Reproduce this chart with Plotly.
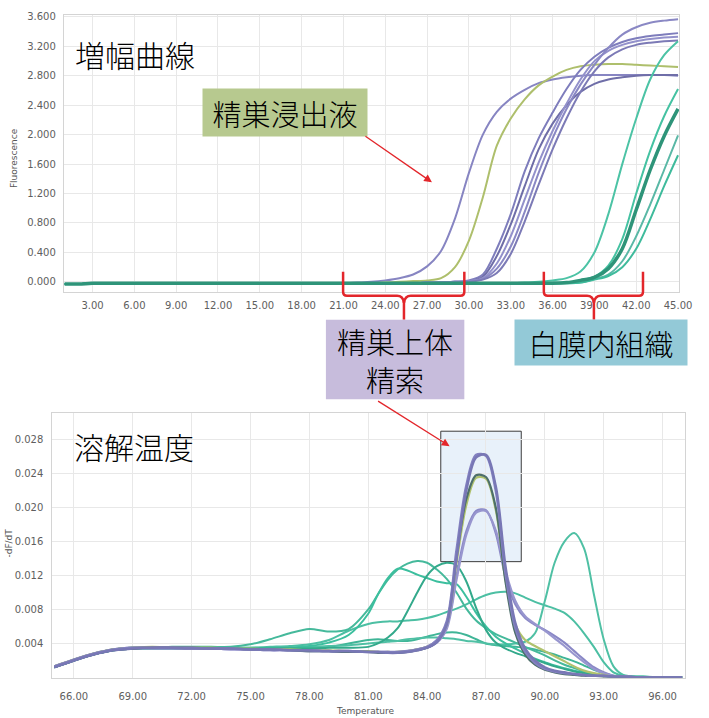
import plotly.graph_objects as go

W, H = 709, 718

# ---------------- amplification curves (top) ----------------
cycles = list(range(1, 46))
amp_xticks = [3, 6, 9, 12, 15, 18, 21, 24, 27, 30, 33, 36, 39, 42, 45]
amp_yticks = [0.0, 0.4, 0.8, 1.2, 1.6, 2.0, 2.4, 2.8, 3.2, 3.6]

amp_purple_early = [
    -0.03, -0.03, -0.02, -0.02, -0.02, -0.02, -0.02, -0.02, -0.02, -0.02,
    -0.02, -0.02, -0.02, -0.02, -0.02, -0.02, -0.02, -0.02, -0.02, -0.02,
    -0.02, -0.01, 0.00, 0.02, 0.05, 0.10, 0.21, 0.42, 0.86, 1.48,
    2.00, 2.31, 2.49, 2.61, 2.70, 2.75, 2.78, 2.80, 2.81, 2.81,
    2.81, 2.81, 2.81, 2.81, 2.80]
amp_green_early = [
    -0.03, -0.03, -0.02, -0.02, -0.02, -0.02, -0.02, -0.02, -0.02, -0.02,
    -0.02, -0.02, -0.02, -0.02, -0.02, -0.02, -0.02, -0.02, -0.02, -0.02,
    -0.02, -0.02, -0.02, -0.01, 0.00, 0.01, 0.02, 0.05, 0.20, 0.56,
    1.15, 1.85, 2.22, 2.48, 2.67, 2.79, 2.88, 2.93, 2.95, 2.96,
    2.96, 2.95, 2.94, 2.93, 2.92]
amp_purple_b = [
    -0.03, -0.03, -0.02, -0.02, -0.02, -0.02, -0.02, -0.02, -0.02, -0.02,
    -0.02, -0.02, -0.02, -0.02, -0.02, -0.02, -0.02, -0.02, -0.02, -0.02,
    -0.02, -0.02, -0.02, -0.02, -0.02, -0.02, -0.01, -0.01, 0.00, 0.02,
    0.10, 0.45, 0.92, 1.50, 1.95, 2.30, 2.62, 2.88, 3.06, 3.18,
    3.26, 3.31, 3.34, 3.36, 3.38]
amp_purple_e = [
    -0.03, -0.03, -0.02, -0.02, -0.02, -0.02, -0.02, -0.02, -0.02, -0.02,
    -0.02, -0.02, -0.02, -0.02, -0.02, -0.02, -0.02, -0.02, -0.02, -0.02,
    -0.02, -0.02, -0.02, -0.02, -0.02, -0.02, -0.01, -0.01, 0.00, 0.01,
    0.07, 0.35, 0.78, 1.30, 1.80, 2.15, 2.40, 2.58, 2.69, 2.75,
    2.78, 2.80, 2.81, 2.81, 2.81]
amp_purple_c = [
    -0.03, -0.03, -0.02, -0.02, -0.02, -0.02, -0.02, -0.02, -0.02, -0.02,
    -0.02, -0.02, -0.02, -0.02, -0.02, -0.02, -0.02, -0.02, -0.02, -0.02,
    -0.02, -0.02, -0.02, -0.02, -0.02, -0.02, -0.01, -0.01, 0.00, 0.01,
    0.05, 0.25, 0.62, 1.12, 1.62, 2.05, 2.42, 2.75, 3.00, 3.14,
    3.22, 3.27, 3.30, 3.32, 3.33]
amp_purple_a = [
    -0.03, -0.03, -0.02, -0.02, -0.02, -0.02, -0.02, -0.02, -0.02, -0.02,
    -0.02, -0.02, -0.02, -0.02, -0.02, -0.02, -0.02, -0.02, -0.02, -0.02,
    -0.02, -0.02, -0.02, -0.02, -0.02, -0.02, -0.01, -0.01, 0.00, 0.01,
    0.04, 0.18, 0.48, 0.95, 1.48, 1.95, 2.35, 2.68, 2.95, 3.18,
    3.36, 3.46, 3.52, 3.55, 3.57]
amp_purple_d = [
    -0.03, -0.03, -0.02, -0.02, -0.02, -0.02, -0.02, -0.02, -0.02, -0.02,
    -0.02, -0.02, -0.02, -0.02, -0.02, -0.02, -0.02, -0.02, -0.02, -0.02,
    -0.02, -0.02, -0.02, -0.02, -0.02, -0.02, -0.02, -0.01, -0.01, 0.00,
    0.03, 0.12, 0.38, 0.82, 1.32, 1.80, 2.22, 2.58, 2.86, 3.05,
    3.16, 3.22, 3.25, 3.27, 3.28]
amp_teal_1 = [
    -0.03, -0.03, -0.02, -0.02, -0.02, -0.02, -0.02, -0.02, -0.02, -0.02,
    -0.02, -0.02, -0.02, -0.02, -0.02, -0.02, -0.02, -0.02, -0.02, -0.02,
    -0.02, -0.02, -0.02, -0.02, -0.02, -0.02, -0.02, -0.02, -0.02, -0.02,
    -0.02, -0.02, -0.02, -0.01, 0.00, 0.02, 0.05, 0.14, 0.40, 0.92,
    1.60, 2.22, 2.75, 3.08, 3.27]
amp_teal_2 = [
    -0.03, -0.03, -0.02, -0.02, -0.02, -0.02, -0.02, -0.02, -0.02, -0.02,
    -0.02, -0.02, -0.02, -0.02, -0.02, -0.02, -0.02, -0.02, -0.02, -0.02,
    -0.02, -0.02, -0.02, -0.02, -0.02, -0.02, -0.02, -0.02, -0.02, -0.02,
    -0.02, -0.02, -0.02, -0.02, -0.02, -0.01, -0.01, 0.02, 0.07, 0.22,
    0.58, 1.20, 1.78, 2.25, 2.62]
amp_teal_3 = [
    -0.03, -0.03, -0.02, -0.02, -0.02, -0.02, -0.02, -0.02, -0.02, -0.02,
    -0.02, -0.02, -0.02, -0.02, -0.02, -0.02, -0.02, -0.02, -0.02, -0.02,
    -0.02, -0.02, -0.02, -0.02, -0.02, -0.02, -0.02, -0.02, -0.02, -0.02,
    -0.02, -0.02, -0.02, -0.02, -0.02, -0.02, -0.01, 0.02, 0.06, 0.18,
    0.45, 0.98, 1.52, 1.98, 2.35]
amp_teal_4 = [
    -0.03, -0.03, -0.02, -0.02, -0.02, -0.02, -0.02, -0.02, -0.02, -0.02,
    -0.02, -0.02, -0.02, -0.02, -0.02, -0.02, -0.02, -0.02, -0.02, -0.02,
    -0.02, -0.02, -0.02, -0.02, -0.02, -0.02, -0.02, -0.02, -0.02, -0.02,
    -0.02, -0.02, -0.02, -0.02, -0.02, -0.02, -0.02, -0.01, 0.04, 0.10,
    0.28, 0.62, 1.05, 1.52, 1.99]
amp_teal_5 = [
    -0.03, -0.03, -0.02, -0.02, -0.02, -0.02, -0.02, -0.02, -0.02, -0.02,
    -0.02, -0.02, -0.02, -0.02, -0.02, -0.02, -0.02, -0.02, -0.02, -0.02,
    -0.02, -0.02, -0.02, -0.02, -0.02, -0.02, -0.02, -0.02, -0.02, -0.02,
    -0.02, -0.02, -0.02, -0.02, -0.02, -0.02, -0.02, -0.01, 0.03, 0.08,
    0.20, 0.45, 0.85, 1.30, 1.72]

# ---------------- melt curves (bottom) ----------------
melt_temps = [65, 66, 67, 68, 69, 70, 71, 72, 73, 74, 75, 76, 77, 78, 79, 80, 81,
              81.5, 82, 82.5, 83, 83.5, 84, 84.5, 85, 85.5, 86, 86.5, 87, 87.5,
              88, 88.5, 89, 89.5, 90, 90.5, 91, 91.5, 92, 92.5, 93, 93.5, 94,
              95, 96, 97]
melt_xticks = [66, 69, 72, 75, 78, 81, 84, 87, 90, 93, 96]
melt_yticks = [0.004, 0.008, 0.012, 0.016, 0.020, 0.024, 0.028]

melt_teal_a = [
    0.0012, 0.0020, 0.0028, 0.0033, 0.0035, 0.0035, 0.0035, 0.0035, 0.0035, 0.0035, 0.0035, 0.0035, 0.0035, 0.0036, 0.0037, 0.0038, 0.0040,
    0.0041, 0.0042, 0.0043, 0.0045, 0.0046, 0.0047, 0.0047, 0.0046, 0.0045, 0.0043, 0.0042, 0.0040, 0.0039, 0.0039, 0.0040, 0.0042, 0.0052, 0.0090, 0.0135, 0.0160, 0.0170, 0.0152, 0.0098, 0.0045, 0.0013, 0.0003,
    0.0001, 0.0000, 0.0000]
melt_teal_b = [
    0.0013, 0.0021, 0.0028, 0.0033, 0.0035, 0.0035, 0.0036, 0.0036, 0.0036, 0.0036, 0.0039, 0.0045, 0.0052, 0.0057, 0.0054, 0.0057, 0.0080,
    0.0098, 0.0115, 0.0127, 0.0134, 0.0137, 0.0135, 0.0127, 0.0116, 0.0100, 0.0081, 0.0067, 0.0058, 0.0051, 0.0046, 0.0041, 0.0036, 0.0031, 0.0026, 0.0020, 0.0015, 0.0011, 0.0007, 0.0004, 0.0002, 0.0001, 0.0001,
    0.0000, 0.0000, 0.0000]
melt_teal_c = [
    0.0012, 0.0020, 0.0027, 0.0032, 0.0034, 0.0034, 0.0034, 0.0034, 0.0034, 0.0034, 0.0034, 0.0034, 0.0035, 0.0037, 0.0041, 0.0050, 0.0075,
    0.0098, 0.0117, 0.0128, 0.0126, 0.0121, 0.0117, 0.0113, 0.0111, 0.0110, 0.0095, 0.0076, 0.0060, 0.0048, 0.0040, 0.0034, 0.0028, 0.0022, 0.0018, 0.0014, 0.0011, 0.0008, 0.0006, 0.0004, 0.0002, 0.0001, 0.0001,
    0.0000, 0.0000, 0.0000]
melt_teal_d = [
    0.0012, 0.0020, 0.0027, 0.0032, 0.0034, 0.0035, 0.0035, 0.0035, 0.0035, 0.0034, 0.0034, 0.0034, 0.0034, 0.0034, 0.0035, 0.0035, 0.0036,
    0.0040, 0.0047, 0.0058, 0.0078, 0.0100, 0.0120, 0.0131, 0.0135, 0.0132, 0.0113, 0.0082, 0.0056, 0.0041, 0.0034, 0.0029, 0.0025, 0.0021, 0.0017, 0.0013, 0.0010, 0.0007, 0.0005, 0.0003, 0.0002, 0.0001, 0.0000,
    0.0000, 0.0000, 0.0000]
melt_teal_e = [
    0.0013, 0.0021, 0.0028, 0.0033, 0.0035, 0.0035, 0.0035, 0.0035, 0.0035, 0.0035, 0.0035, 0.0036, 0.0037, 0.0039, 0.0044, 0.0055, 0.0063,
    0.0065, 0.0066, 0.0066, 0.0067, 0.0068, 0.0070, 0.0073, 0.0077, 0.0081, 0.0086, 0.0092, 0.0097, 0.0100, 0.0101, 0.0099, 0.0094, 0.0089, 0.0085, 0.0081, 0.0076, 0.0066, 0.0052, 0.0036, 0.0018, 0.0006, 0.0002,
    0.0001, 0.0000, 0.0000]
melt_teal_f = [
    0.0012, 0.0020, 0.0027, 0.0032, 0.0034, 0.0034, 0.0034, 0.0034, 0.0034, 0.0034, 0.0034, 0.0034, 0.0034, 0.0035, 0.0036, 0.0040, 0.0044,
    0.0045, 0.0044, 0.0043, 0.0043, 0.0045, 0.0048, 0.0051, 0.0053, 0.0053, 0.0050, 0.0045, 0.0040, 0.0038, 0.0037, 0.0036, 0.0035, 0.0033, 0.0030, 0.0027, 0.0023, 0.0019, 0.0014, 0.0009, 0.0005, 0.0002, 0.0001,
    0.0000, 0.0000, 0.0000]
melt_purple_1 = [
    0.0013, 0.0021, 0.0028, 0.0033, 0.0035, 0.0035, 0.0035, 0.0035, 0.0034, 0.0034, 0.0033, 0.0033, 0.0032, 0.0032, 0.0031, 0.0031, 0.0030,
    0.0030, 0.0030, 0.0030, 0.0031, 0.0033, 0.0036, 0.0044, 0.0066, 0.0150, 0.0226, 0.0262, 0.0261, 0.0220, 0.0122, 0.0058, 0.0030, 0.0017, 0.0010, 0.0007, 0.0005, 0.0004, 0.0003, 0.0002, 0.0002, 0.0001, 0.0001,
    0.0000, 0.0000, 0.0000]
melt_purple_2 = [
    0.0012, 0.0020, 0.0027, 0.0032, 0.0034, 0.0035, 0.0035, 0.0034, 0.0034, 0.0034, 0.0033, 0.0033, 0.0032, 0.0032, 0.0031, 0.0031, 0.0030,
    0.0030, 0.0029, 0.0029, 0.0030, 0.0032, 0.0035, 0.0042, 0.0062, 0.0140, 0.0220, 0.0259, 0.0262, 0.0225, 0.0130, 0.0064, 0.0034, 0.0020, 0.0012, 0.0008, 0.0006, 0.0004, 0.0003, 0.0002, 0.0002, 0.0001, 0.0001,
    0.0000, 0.0000, 0.0000]
melt_green = [
    0.0013, 0.0021, 0.0028, 0.0033, 0.0035, 0.0036, 0.0035, 0.0035, 0.0035, 0.0034, 0.0034, 0.0033, 0.0033, 0.0032, 0.0032, 0.0031, 0.0031,
    0.0030, 0.0030, 0.0030, 0.0031, 0.0033, 0.0036, 0.0043, 0.0062, 0.0135, 0.0203, 0.0235, 0.0234, 0.0197, 0.0115, 0.0062, 0.0044, 0.0037, 0.0031, 0.0025, 0.0019, 0.0013, 0.0008, 0.0005, 0.0003, 0.0001, 0.0001,
    0.0000, 0.0000, 0.0000]
melt_purple_3 = [
    0.0012, 0.0020, 0.0027, 0.0032, 0.0034, 0.0034, 0.0034, 0.0034, 0.0034, 0.0033, 0.0033, 0.0032, 0.0032, 0.0031, 0.0031, 0.0030, 0.0030,
    0.0030, 0.0030, 0.0030, 0.0031, 0.0033, 0.0036, 0.0043, 0.0060, 0.0120, 0.0172, 0.0196, 0.0197, 0.0170, 0.0118, 0.0086, 0.0070, 0.0062, 0.0056, 0.0049, 0.0041, 0.0031, 0.0021, 0.0012, 0.0006, 0.0002, 0.0001,
    0.0000, 0.0000, 0.0000]
melt_purple_4 = [
    0.0013, 0.0021, 0.0028, 0.0033, 0.0035, 0.0035, 0.0035, 0.0034, 0.0034, 0.0033, 0.0033, 0.0032, 0.0032, 0.0031, 0.0031, 0.0030, 0.0030,
    0.0030, 0.0029, 0.0029, 0.0030, 0.0032, 0.0035, 0.0041, 0.0057, 0.0115, 0.0168, 0.0194, 0.0196, 0.0173, 0.0125, 0.0090, 0.0072, 0.0063, 0.0055, 0.0046, 0.0037, 0.0027, 0.0018, 0.0010, 0.0005, 0.0002, 0.0001,
    0.0000, 0.0000, 0.0000]
melt_dark = [
    0.0012, 0.0020, 0.0027, 0.0032, 0.0034, 0.0035, 0.0035, 0.0035, 0.0034, 0.0034, 0.0033, 0.0033, 0.0032, 0.0031, 0.0031, 0.0030, 0.0030,
    0.0029, 0.0029, 0.0029, 0.0030, 0.0032, 0.0035, 0.0042, 0.0064, 0.0142, 0.0210, 0.0238, 0.0236, 0.0200, 0.0112, 0.0052, 0.0027, 0.0015, 0.0009, 0.0006, 0.0004, 0.0003, 0.0002, 0.0002, 0.0001, 0.0001, 0.0000,
    0.0000, 0.0000, 0.0000]

# ---------------- helpers (pixel -> paper) ----------------
def px(x):
    return x / W


def py(y):
    return 1 - y / H


fig = go.Figure()


def add_line(xs, ys, color, width, axis):
    xa, ya = ("x", "y") if axis == 1 else ("x2", "y2")
    fig.add_trace(go.Scatter(
        x=xs, y=ys, mode="lines", xaxis=xa, yaxis=ya,
        line=dict(color=color, width=width, shape="spline", smoothing=0.9),
        hoverinfo="skip", showlegend=False))


# top chart
add_line(cycles, amp_purple_early, "#8785c2", 2, 1)
add_line(cycles, amp_green_early, "#aebf6c", 2, 1)
add_line(cycles, amp_purple_b, "#7e7dbc", 2, 1)
add_line(cycles, amp_purple_e, "#6f6ea8", 2, 1)
add_line(cycles, amp_purple_c, "#9391cb", 2, 1)
add_line(cycles, amp_purple_a, "#8a88c4", 2, 1)
add_line(cycles, amp_purple_d, "#7c7ab6", 2, 1)
add_line(cycles, amp_teal_1, "#4cc3a5", 2, 1)
add_line(cycles, amp_teal_2, "#45c2a2", 2, 1)
add_line(cycles, amp_teal_4, "#5ab8a6", 2, 1)
add_line(cycles, amp_teal_5, "#3fbb9c", 2, 1)
add_line(cycles, amp_teal_3, "#2e9479", 3.5, 1)

# bottom chart
add_line(melt_temps, melt_teal_e, "#4cbfa3", 2, 2)
add_line(melt_temps, melt_teal_f, "#3fb597", 2, 2)
add_line(melt_temps, melt_teal_a, "#4fc0a4", 2, 2)
add_line(melt_temps, melt_teal_b, "#45b99b", 2, 2)
add_line(melt_temps, melt_teal_c, "#3cbf9e", 2, 2)
add_line(melt_temps, melt_teal_d, "#33a98b", 2, 2)
add_line(melt_temps, melt_purple_3, "#8a88c6", 2.2, 2)
add_line(melt_temps, melt_purple_4, "#9896cf", 2.2, 2)
add_line(melt_temps, melt_green, "#b0c26e", 2.2, 2)
add_line(melt_temps, melt_dark, "#4e6f6b", 2.2, 2)
add_line(melt_temps, melt_purple_1, "#8381c0", 2.5, 2)
add_line(melt_temps, melt_purple_2, "#7877b5", 2.5, 2)

tickfont = dict(family="DejaVu Sans", size=10, color="#5e5e5e")
axis_common = dict(showgrid=True, gridcolor="#e8e8e8", gridwidth=1, zeroline=False,
                   showline=True, linecolor="#d4d4d4", linewidth=1, mirror=True,
                   ticks="", tickfont=tickfont, fixedrange=True)

fig.update_layout(
    width=W, height=H, autosize=False,
    margin=dict(l=0, r=0, t=0, b=0),
    paper_bgcolor="white", plot_bgcolor="rgba(0,0,0,0)",
    xaxis=dict(domain=[px(65), px(691.7)], range=[0.94, 45.07], anchor="y",
               tickvals=amp_xticks, tickformat=".2f", ticklabelstandoff=4, **axis_common),
    yaxis=dict(domain=[py(290), py(12)], range=[-0.135, 3.627], anchor="x",
               tickvals=amp_yticks, tickformat=".3f", ticklabelstandoff=5, **axis_common),
    xaxis2=dict(domain=[px(53.3), px(698.3)], range=[64.9, 97.17], anchor="y2",
                tickvals=melt_xticks, tickformat=".2f", ticklabelstandoff=9, **axis_common),
    yaxis2=dict(domain=[py(677.7), py(412)], range=[-0.00005, 0.0311], anchor="x2",
                tickvals=melt_yticks, tickformat=".3f", ticklabelstandoff=6, **axis_common),
)

# ---------------- shapes ----------------
RED = "#e3262b"


def bracket(x0, x1, xm, ytop, ybar, ystem):
    pts = (f"M {px(x0)},{py(ytop)} L {px(x0)},{py(ybar - 4)} "
           f"Q {px(x0)},{py(ybar)} {px(x0 + 4)},{py(ybar)} "
           f"L {px(xm - 7)},{py(ybar)} Q {px(xm - 1)},{py(ybar)} {px(xm)},{py(ybar + 7)} "
           f"Q {px(xm + 1)},{py(ybar)} {px(xm + 7)},{py(ybar)} "
           f"L {px(x1 - 4)},{py(ybar)} Q {px(x1)},{py(ybar)} {px(x1)},{py(ybar - 4)} "
           f"L {px(x1)},{py(ytop)}")
    stem = f"M {px(xm)},{py(ybar + 5)} L {px(xm)},{py(ystem)}"
    return [dict(type="path", path=pts, xref="paper", yref="paper",
                 line=dict(color=RED, width=2.5), layer="above"),
            dict(type="path", path=stem, xref="paper", yref="paper",
                 line=dict(color=RED, width=2.5), layer="above")]


shapes = []
shapes += bracket(349.5, 473, 411.5, 270, 294, 318)
shapes += bracket(554, 655, 605, 270, 294, 318)
shapes.append(dict(type="rect", xref="paper", yref="paper",
                   x0=px(449), x1=px(531), y0=py(561), y1=py(430),
                   fillcolor="rgba(205,225,243,0.45)",
                   line=dict(color="#3c3c3c", width=1), layer="below"))
# purple label box
shapes.append(dict(type="rect", xref="paper", yref="paper",
                   x0=px(332), x1=px(473), y0=py(398), y1=py(318),
                   fillcolor="#c7bcdc", line=dict(width=0), layer="above"))
fig.update_layout(shapes=shapes)

# ---------------- annotations ----------------
CJK = "Noto Sans CJK JP"
big = dict(family=CJK, size=30, color="black", weight=300)
lab = dict(family=CJK, size=29, color="black", weight=300)
ann = []
ann.append(dict(text="増幅曲線", x=px(137.5), y=py(51.5), xref="paper", yref="paper",
                showarrow=False, font=big, xanchor="center", yanchor="middle"))
ann.append(dict(text="溶解温度", x=px(136), y=py(445), xref="paper", yref="paper",
                showarrow=False, font=big, xanchor="center", yanchor="middle"))
ann.append(dict(text="精巣浸出液", x=px(290), y=py(109.5), xref="paper", yref="paper",
                showarrow=False, font=lab,
                bgcolor="#b7c98f", width=164, height=47, borderpad=0,
                xanchor="center", yanchor="middle"))
ann.append(dict(text="精巣上体", x=px(402.5), y=py(339), xref="paper", yref="paper",
                showarrow=False, font=lab, xanchor="center", yanchor="middle"))
ann.append(dict(text="精索", x=px(402.5), y=py(378), xref="paper", yref="paper",
                showarrow=False, font=lab, xanchor="center", yanchor="middle"))
ann.append(dict(text="白膜内組織", x=px(612), y=py(340.5), xref="paper", yref="paper",
                showarrow=False, font=lab,
                bgcolor="#93c9d7", width=172, height=45, borderpad=0,
                xanchor="center", yanchor="middle"))
# arrows
ann.append(dict(text="", x=px(440), y=py(180), xref="paper", yref="paper",
                showarrow=True, ax=372 - 440, ay=133 - 180, arrowhead=2,
                arrowsize=1.2, arrowwidth=1.3, arrowcolor=RED, standoff=0))
ann.append(dict(text="", x=px(458), y=py(445), xref="paper", yref="paper",
                showarrow=True, ax=385 - 458, ay=399 - 445, arrowhead=2,
                arrowsize=1.2, arrowwidth=1.3, arrowcolor=RED, standoff=0))
# axis titles
small = dict(family="DejaVu Sans", size=9, color="#555555")
ann.append(dict(text="Fluorescence", x=px(15), y=py(156), xref="paper", yref="paper",
                showarrow=False, textangle=-90, font=small,
                xanchor="center", yanchor="middle"))
ann.append(dict(text="-dF/dT", x=px(9), y=py(542), xref="paper", yref="paper",
                showarrow=False, textangle=-90, font=small,
                xanchor="center", yanchor="middle"))
ann.append(dict(text="Temperature", x=px(372), y=py(711), xref="paper", yref="paper",
                showarrow=False, font=small, xanchor="center", yanchor="middle"))
fig.update_layout(annotations=ann)

fig.write_html(
    "out.html", config={"displayModeBar": False},
    post_script=("document.body.style.margin='0px';"
                 "document.body.style.overflow='hidden';"
                 "document.documentElement.style.overflow='hidden';"))
